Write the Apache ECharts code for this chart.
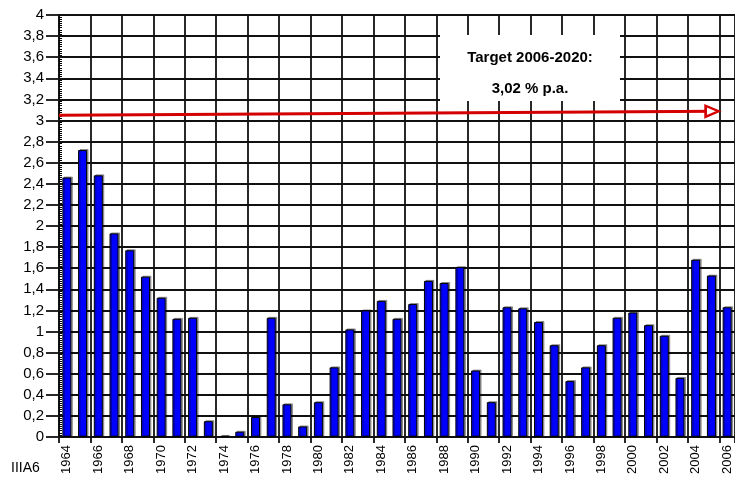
<!DOCTYPE html>
<html>
<head>
<meta charset="utf-8">
<script src="https://cdn.jsdelivr.net/npm/echarts@6/dist/echarts.min.js"></script>
<style>
  html, body { margin: 0; padding: 0; background: #fff; }
  #chart { width: 735px; height: 481px; }
</style>
</head>
<body>
<div id="chart"></div>
<script>
// years on the x axis
const years = [];
for (let y = 1964; y <= 2006; y++) years.push(String(y));

// annual values
const values = [
  2.46, 2.72, 2.48, 1.93, 1.77, 1.52, 1.32, 1.12, 1.13, 0.15,
  0.01, 0.05, 0.19, 1.13, 0.31, 0.10, 0.33, 0.66, 1.02, 1.20,
  1.29, 1.12, 1.26, 1.48, 1.46, 1.61, 0.63, 0.33, 1.23, 1.22,
  1.09, 0.87, 0.53, 0.66, 0.87, 1.13, 1.18, 1.06, 0.96, 0.56,
  1.68, 1.53, 1.23
];

// target arrow (start / end on a 0..43 scale across the plot)
const arrowStart = [0, 3.05];
const arrowEnd = [41.8, 3.087];

const targetTitle = 'Target 2006-2020:';
const targetValue = '3,02 % p.a.';
const sourceLabel = 'IIIA6';

const fontFamily = 'Arial, "Liberation Sans", sans-serif';
const gridLine = { color: '#111', width: 1.8 };

const chart = echarts.init(document.getElementById('chart'));

chart.setOption({
  animation: false,
  backgroundColor: '#fff',
  grid: { left: 59, top: 15, bottom: 44, right: -6, containLabel: false },
  xAxis: [{
    type: 'category',
    data: years,
    boundaryGap: true,
    axisLine: { lineStyle: gridLine },
    axisTick: { show: true, interval: 1, length: 6, lineStyle: gridLine },
    axisLabel: {
      interval: 1, rotate: 90, color: '#000', fontSize: 13, fontFamily: fontFamily, margin: 8
    },
    splitLine: { show: true, interval: 1, lineStyle: gridLine }
  }, {
    type: 'value',
    min: 0, max: 43,
    show: false
  }],
  yAxis: [{
    type: 'value',
    min: 0, max: 4, interval: 0.2,
    axisLine: { show: true, lineStyle: gridLine },
    axisTick: { show: true, length: 13, lineStyle: gridLine },
    axisLabel: {
      color: '#000', fontSize: 15, fontFamily: fontFamily, margin: 15,
      formatter: v => String(+v.toFixed(1)).replace('.', ',')
    },
    splitLine: { show: true, lineStyle: gridLine }
  }, {
    type: 'value',
    position: 'left',
    min: 0, max: 4, interval: 0.2,
    axisLine: { show: false },
    axisTick: { show: false, inside: true },
    axisLabel: { show: false },
    splitLine: { show: false },
    minorTick: { show: true, splitNumber: 10, length: 3, lineStyle: { color: '#000', width: 1 } }
  }],
  graphic: [
    {
      type: 'rect', left: 440, top: 35, z: 50,
      shape: { width: 180, height: 66 },
      style: { fill: '#fff' }
    },
    {
      type: 'text', z: 51,
      style: { text: targetTitle, x: 530, y: 58, align: 'center', verticalAlign: 'middle',
        fill: '#000', font: 'bold 15px ' + fontFamily }
    },
    {
      type: 'text', z: 51,
      style: { text: targetValue, x: 530, y: 89, align: 'center', verticalAlign: 'middle',
        fill: '#000', font: 'bold 15px ' + fontFamily }
    },
    {
      type: 'text', z: 51,
      style: { text: sourceLabel, x: 11, y: 468, verticalAlign: 'middle',
        fill: '#000', font: '14px ' + fontFamily }
    }
  ],
  series: [{
    type: 'bar',
    data: values,
    barWidth: 9,
    itemStyle: {
      color: '#0000ff', borderColor: '#000', borderWidth: 1,
      shadowColor: 'rgba(0,0,0,0.35)', shadowOffsetX: 1.5, shadowOffsetY: -1
    },
    z: 3
  }, {
    type: 'line',
    xAxisIndex: 1,
    data: [],
    z: 40,
    markLine: {
      silent: true,
      symbol: ['none', 'none'],
      lineStyle: { color: '#d40000', width: 3, type: 'solid' },
      label: { show: false },
      data: [[{ coord: arrowStart }, { coord: arrowEnd }]]
    },
    markPoint: {
      silent: true,
      symbol: 'triangle',
      symbolSize: [11, 13],
      symbolRotate: -90,
      symbolOffset: [-4, 0],
      itemStyle: { color: '#fff', borderColor: '#d40000', borderWidth: 2.5 },
      label: { show: false },
      data: [{ coord: arrowEnd }]
    }
  }]
});
</script>
</body>
</html>
